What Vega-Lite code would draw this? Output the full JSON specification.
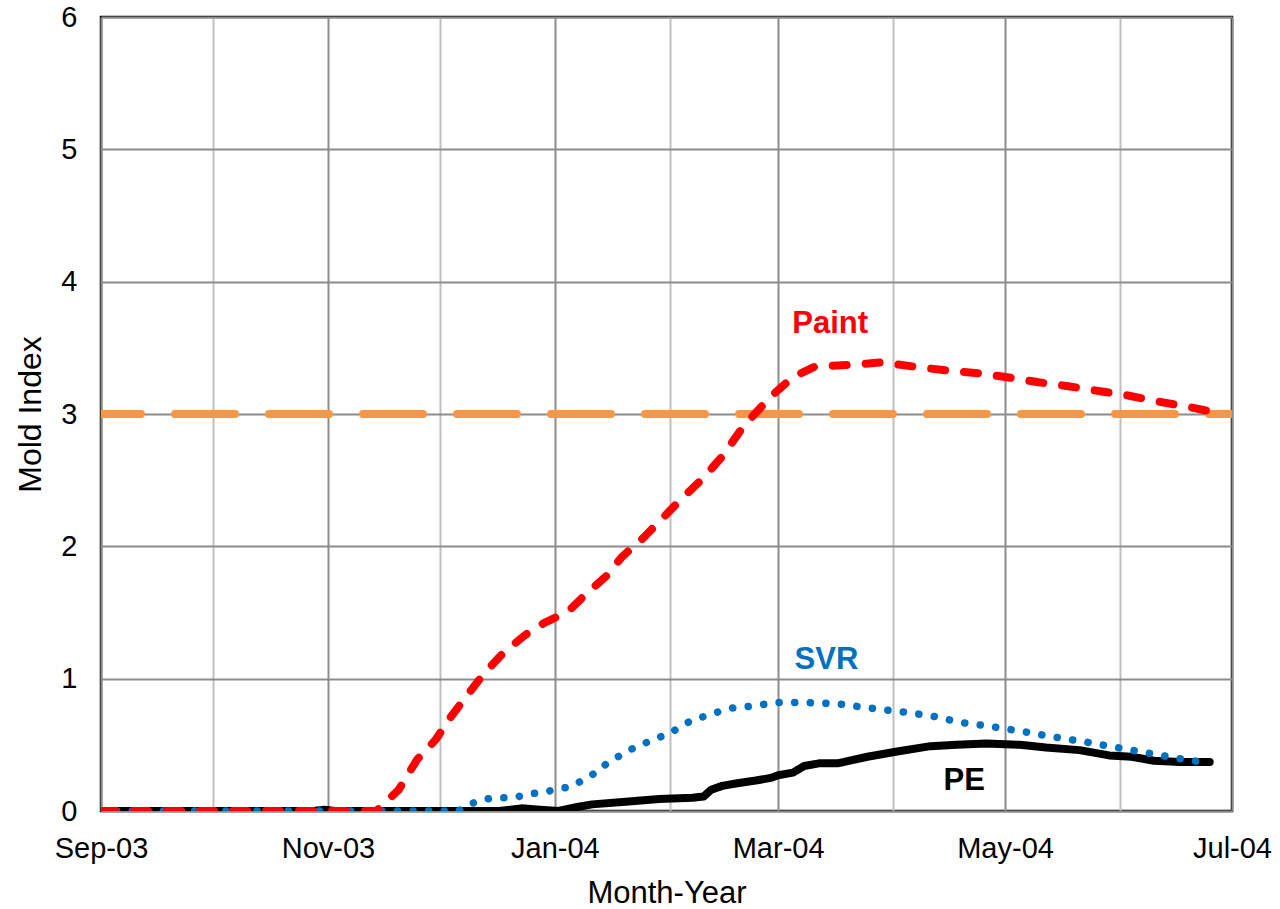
{
  "$schema": "https://vega.github.io/schema/vega-lite/v6.json",
  "width": 1131,
  "height": 794,
  "autosize": "none",
  "padding": {"left": 101, "top": 17, "right": 48, "bottom": 98},
  "background": "white",
  "config": {
    "font": "Liberation Sans",
    "view": {"stroke": "#000000", "strokeWidth": 2.5}
  },
  "data": {
    "values": [
      {"series": "Threshold", "date": "2003-09-01", "value": 3},
      {"series": "Threshold", "date": "2004-07-01", "value": 3},

      {"series": "PE", "date": "2003-09-01", "value": 0},
      {"series": "PE", "date": "2003-10-28", "value": 0},
      {"series": "PE", "date": "2003-10-31", "value": 0.01},
      {"series": "PE", "date": "2003-11-03", "value": 0},
      {"series": "PE", "date": "2003-12-17", "value": 0},
      {"series": "PE", "date": "2003-12-23", "value": 0.02},
      {"series": "PE", "date": "2003-12-28", "value": 0.01},
      {"series": "PE", "date": "2004-01-02", "value": 0},
      {"series": "PE", "date": "2004-01-07", "value": 0.03},
      {"series": "PE", "date": "2004-01-11", "value": 0.05},
      {"series": "PE", "date": "2004-01-20", "value": 0.07},
      {"series": "PE", "date": "2004-01-29", "value": 0.09},
      {"series": "PE", "date": "2004-02-07", "value": 0.10},
      {"series": "PE", "date": "2004-02-10", "value": 0.11},
      {"series": "PE", "date": "2004-02-12", "value": 0.16},
      {"series": "PE", "date": "2004-02-15", "value": 0.19},
      {"series": "PE", "date": "2004-02-19", "value": 0.21},
      {"series": "PE", "date": "2004-02-24", "value": 0.23},
      {"series": "PE", "date": "2004-02-28", "value": 0.25},
      {"series": "PE", "date": "2004-03-01", "value": 0.27},
      {"series": "PE", "date": "2004-03-05", "value": 0.29},
      {"series": "PE", "date": "2004-03-08", "value": 0.34},
      {"series": "PE", "date": "2004-03-12", "value": 0.36},
      {"series": "PE", "date": "2004-03-17", "value": 0.36},
      {"series": "PE", "date": "2004-03-25", "value": 0.41},
      {"series": "PE", "date": "2004-04-02", "value": 0.45},
      {"series": "PE", "date": "2004-04-11", "value": 0.49},
      {"series": "PE", "date": "2004-04-18", "value": 0.50},
      {"series": "PE", "date": "2004-04-26", "value": 0.51},
      {"series": "PE", "date": "2004-05-05", "value": 0.50},
      {"series": "PE", "date": "2004-05-12", "value": 0.48},
      {"series": "PE", "date": "2004-05-21", "value": 0.46},
      {"series": "PE", "date": "2004-05-29", "value": 0.42},
      {"series": "PE", "date": "2004-06-04", "value": 0.41},
      {"series": "PE", "date": "2004-06-10", "value": 0.38},
      {"series": "PE", "date": "2004-06-17", "value": 0.37},
      {"series": "PE", "date": "2004-06-25", "value": 0.37},

      {"series": "SVR", "date": "2003-09-01", "value": 0},
      {"series": "SVR", "date": "2003-12-06", "value": 0},
      {"series": "SVR", "date": "2003-12-09", "value": 0.05},
      {"series": "SVR", "date": "2003-12-13", "value": 0.09},
      {"series": "SVR", "date": "2003-12-17", "value": 0.10},
      {"series": "SVR", "date": "2003-12-21", "value": 0.10},
      {"series": "SVR", "date": "2003-12-25", "value": 0.13},
      {"series": "SVR", "date": "2003-12-29", "value": 0.14},
      {"series": "SVR", "date": "2004-01-02", "value": 0.17},
      {"series": "SVR", "date": "2004-01-05", "value": 0.18},
      {"series": "SVR", "date": "2004-01-09", "value": 0.24},
      {"series": "SVR", "date": "2004-01-12", "value": 0.29},
      {"series": "SVR", "date": "2004-01-15", "value": 0.36},
      {"series": "SVR", "date": "2004-01-18", "value": 0.41},
      {"series": "SVR", "date": "2004-01-21", "value": 0.46},
      {"series": "SVR", "date": "2004-01-25", "value": 0.51},
      {"series": "SVR", "date": "2004-02-01", "value": 0.59},
      {"series": "SVR", "date": "2004-02-04", "value": 0.64},
      {"series": "SVR", "date": "2004-02-07", "value": 0.69},
      {"series": "SVR", "date": "2004-02-11", "value": 0.72},
      {"series": "SVR", "date": "2004-02-14", "value": 0.75},
      {"series": "SVR", "date": "2004-02-18", "value": 0.78},
      {"series": "SVR", "date": "2004-02-22", "value": 0.79},
      {"series": "SVR", "date": "2004-02-25", "value": 0.80},
      {"series": "SVR", "date": "2004-02-29", "value": 0.82},
      {"series": "SVR", "date": "2004-03-08", "value": 0.82},
      {"series": "SVR", "date": "2004-03-17", "value": 0.81},
      {"series": "SVR", "date": "2004-03-25", "value": 0.78},
      {"series": "SVR", "date": "2004-04-03", "value": 0.75},
      {"series": "SVR", "date": "2004-04-11", "value": 0.72},
      {"series": "SVR", "date": "2004-04-19", "value": 0.67},
      {"series": "SVR", "date": "2004-04-27", "value": 0.64},
      {"series": "SVR", "date": "2004-05-06", "value": 0.60},
      {"series": "SVR", "date": "2004-05-14", "value": 0.56},
      {"series": "SVR", "date": "2004-05-23", "value": 0.52},
      {"series": "SVR", "date": "2004-05-31", "value": 0.48},
      {"series": "SVR", "date": "2004-06-08", "value": 0.44},
      {"series": "SVR", "date": "2004-06-16", "value": 0.40},
      {"series": "SVR", "date": "2004-06-25", "value": 0.36},

      {"series": "Paint", "date": "2003-09-01", "value": 0},
      {"series": "Paint", "date": "2003-11-14", "value": 0},
      {"series": "Paint", "date": "2003-11-20", "value": 0.16},
      {"series": "Paint", "date": "2003-11-25", "value": 0.39},
      {"series": "Paint", "date": "2003-11-30", "value": 0.54},
      {"series": "Paint", "date": "2003-12-04", "value": 0.71},
      {"series": "Paint", "date": "2003-12-08", "value": 0.86},
      {"series": "Paint", "date": "2003-12-13", "value": 1.04},
      {"series": "Paint", "date": "2003-12-18", "value": 1.19},
      {"series": "Paint", "date": "2003-12-24", "value": 1.33},
      {"series": "Paint", "date": "2003-12-29", "value": 1.42},
      {"series": "Paint", "date": "2004-01-01", "value": 1.46},
      {"series": "Paint", "date": "2004-01-05", "value": 1.52},
      {"series": "Paint", "date": "2004-01-09", "value": 1.63},
      {"series": "Paint", "date": "2004-01-15", "value": 1.78},
      {"series": "Paint", "date": "2004-01-19", "value": 1.92},
      {"series": "Paint", "date": "2004-01-25", "value": 2.07},
      {"series": "Paint", "date": "2004-02-03", "value": 2.33},
      {"series": "Paint", "date": "2004-02-10", "value": 2.52},
      {"series": "Paint", "date": "2004-02-15", "value": 2.68},
      {"series": "Paint", "date": "2004-02-20", "value": 2.88},
      {"series": "Paint", "date": "2004-02-24", "value": 3.01},
      {"series": "Paint", "date": "2004-02-28", "value": 3.13},
      {"series": "Paint", "date": "2004-03-05", "value": 3.28},
      {"series": "Paint", "date": "2004-03-11", "value": 3.36},
      {"series": "Paint", "date": "2004-03-20", "value": 3.37},
      {"series": "Paint", "date": "2004-03-29", "value": 3.39},
      {"series": "Paint", "date": "2004-04-06", "value": 3.36},
      {"series": "Paint", "date": "2004-04-15", "value": 3.33},
      {"series": "Paint", "date": "2004-04-23", "value": 3.31},
      {"series": "Paint", "date": "2004-05-01", "value": 3.28},
      {"series": "Paint", "date": "2004-05-10", "value": 3.24},
      {"series": "Paint", "date": "2004-05-18", "value": 3.21},
      {"series": "Paint", "date": "2004-05-27", "value": 3.17},
      {"series": "Paint", "date": "2004-06-03", "value": 3.14},
      {"series": "Paint", "date": "2004-06-12", "value": 3.09},
      {"series": "Paint", "date": "2004-06-20", "value": 3.05},
      {"series": "Paint", "date": "2004-06-25", "value": 3.02}
    ],
    "format": {"parse": {"date": "date:'%Y-%m-%d'"}}
  },
  "encoding": {
    "x": {
      "field": "date",
      "type": "temporal",
      "scale": {
        "domain": [
          {"year": 2003, "month": 9, "date": 1},
          {"year": 2004, "month": 7, "date": 1}
        ]
      },
      "axis": {
        "title": "Month-Year",
        "titleFontSize": 31,
        "titleFontWeight": "normal",
        "titleColor": "#000000",
        "titlePadding": 15,
        "values": [
          {"year": 2003, "month": 9, "date": 1},
          {"year": 2003, "month": 10, "date": 1},
          {"year": 2003, "month": 11, "date": 1},
          {"year": 2003, "month": 12, "date": 1},
          {"year": 2004, "month": 1, "date": 1},
          {"year": 2004, "month": 2, "date": 1},
          {"year": 2004, "month": 3, "date": 1},
          {"year": 2004, "month": 4, "date": 1},
          {"year": 2004, "month": 5, "date": 1},
          {"year": 2004, "month": 6, "date": 1},
          {"year": 2004, "month": 7, "date": 1}
        ],
        "labelExpr": "month(datum.value) % 2 == 0 ? timeFormat(datum.value, '%b-%y') : ''",
        "labelFontSize": 29,
        "labelColor": "#000000",
        "labelPadding": 23,
        "labelFlush": false,
        "labelOverlap": false,
        "ticks": false,
        "domain": false,
        "grid": true,
        "gridWidth": 2,
        "gridColor": {
          "condition": {"test": "month(datum.value) % 2 == 0", "value": "#8C8C8C"},
          "value": "#BFBFBF"
        }
      }
    },
    "y": {
      "field": "value",
      "type": "quantitative",
      "scale": {"domain": [0, 6], "nice": false},
      "axis": {
        "title": "Mold Index",
        "titleFontSize": 32,
        "titleFontWeight": "normal",
        "titleColor": "#000000",
        "titlePadding": 13,
        "values": [0, 1, 2, 3, 4, 5, 6],
        "labelFontSize": 29,
        "labelColor": "#000000",
        "labelPadding": 24,
        "ticks": false,
        "domain": false,
        "grid": true,
        "gridWidth": 2,
        "gridColor": "#8C8C8C"
      }
    }
  },
  "layer": [
    {
      "transform": [{"filter": "datum.series == 'Threshold'"}],
      "mark": {"type": "line", "color": "#F79646", "strokeWidth": 8, "strokeDash": [60, 34], "strokeDashOffset": 20, "strokeCap": "round", "clip": true},
      "encoding": {}
    },
    {
      "transform": [{"filter": "datum.series == 'PE'"}],
      "mark": {"type": "line", "color": "#000000", "strokeWidth": 8, "strokeJoin": "round", "strokeCap": "round", "clip": true},
      "encoding": {}
    },
    {
      "transform": [{"filter": "datum.series == 'SVR'"}],
      "mark": {"type": "line", "color": "#0070C0", "strokeWidth": 7.5, "strokeDash": [0.1, 15.5], "strokeCap": "round", "clip": true},
      "encoding": {}
    },
    {
      "transform": [{"filter": "datum.series == 'Paint'"}],
      "mark": {"type": "line", "color": "#FF0000", "strokeWidth": 8, "strokeDash": [14, 19], "strokeCap": "round", "strokeJoin": "round", "clip": true},
      "encoding": {}
    },
    {
      "data": {
        "values": [
          {"label": "Paint", "date": "2004-03-15", "value": 3.68},
          {"label": "SVR", "date": "2004-03-14", "value": 1.14},
          {"label": "PE", "date": "2004-04-20", "value": 0.23}
        ],
        "format": {"parse": {"date": "date:'%Y-%m-%d'"}}
      },
      "mark": {"type": "text", "fontSize": 31, "fontWeight": "bold", "align": "center", "baseline": "middle"},
      "encoding": {
        "text": {"field": "label", "type": "nominal"},
        "color": {
          "field": "label",
          "type": "nominal",
          "scale": {"domain": ["Paint", "SVR", "PE"], "range": ["#FF0000", "#0070C0", "#000000"]},
          "legend": null
        }
      }
    }
  ]
}
